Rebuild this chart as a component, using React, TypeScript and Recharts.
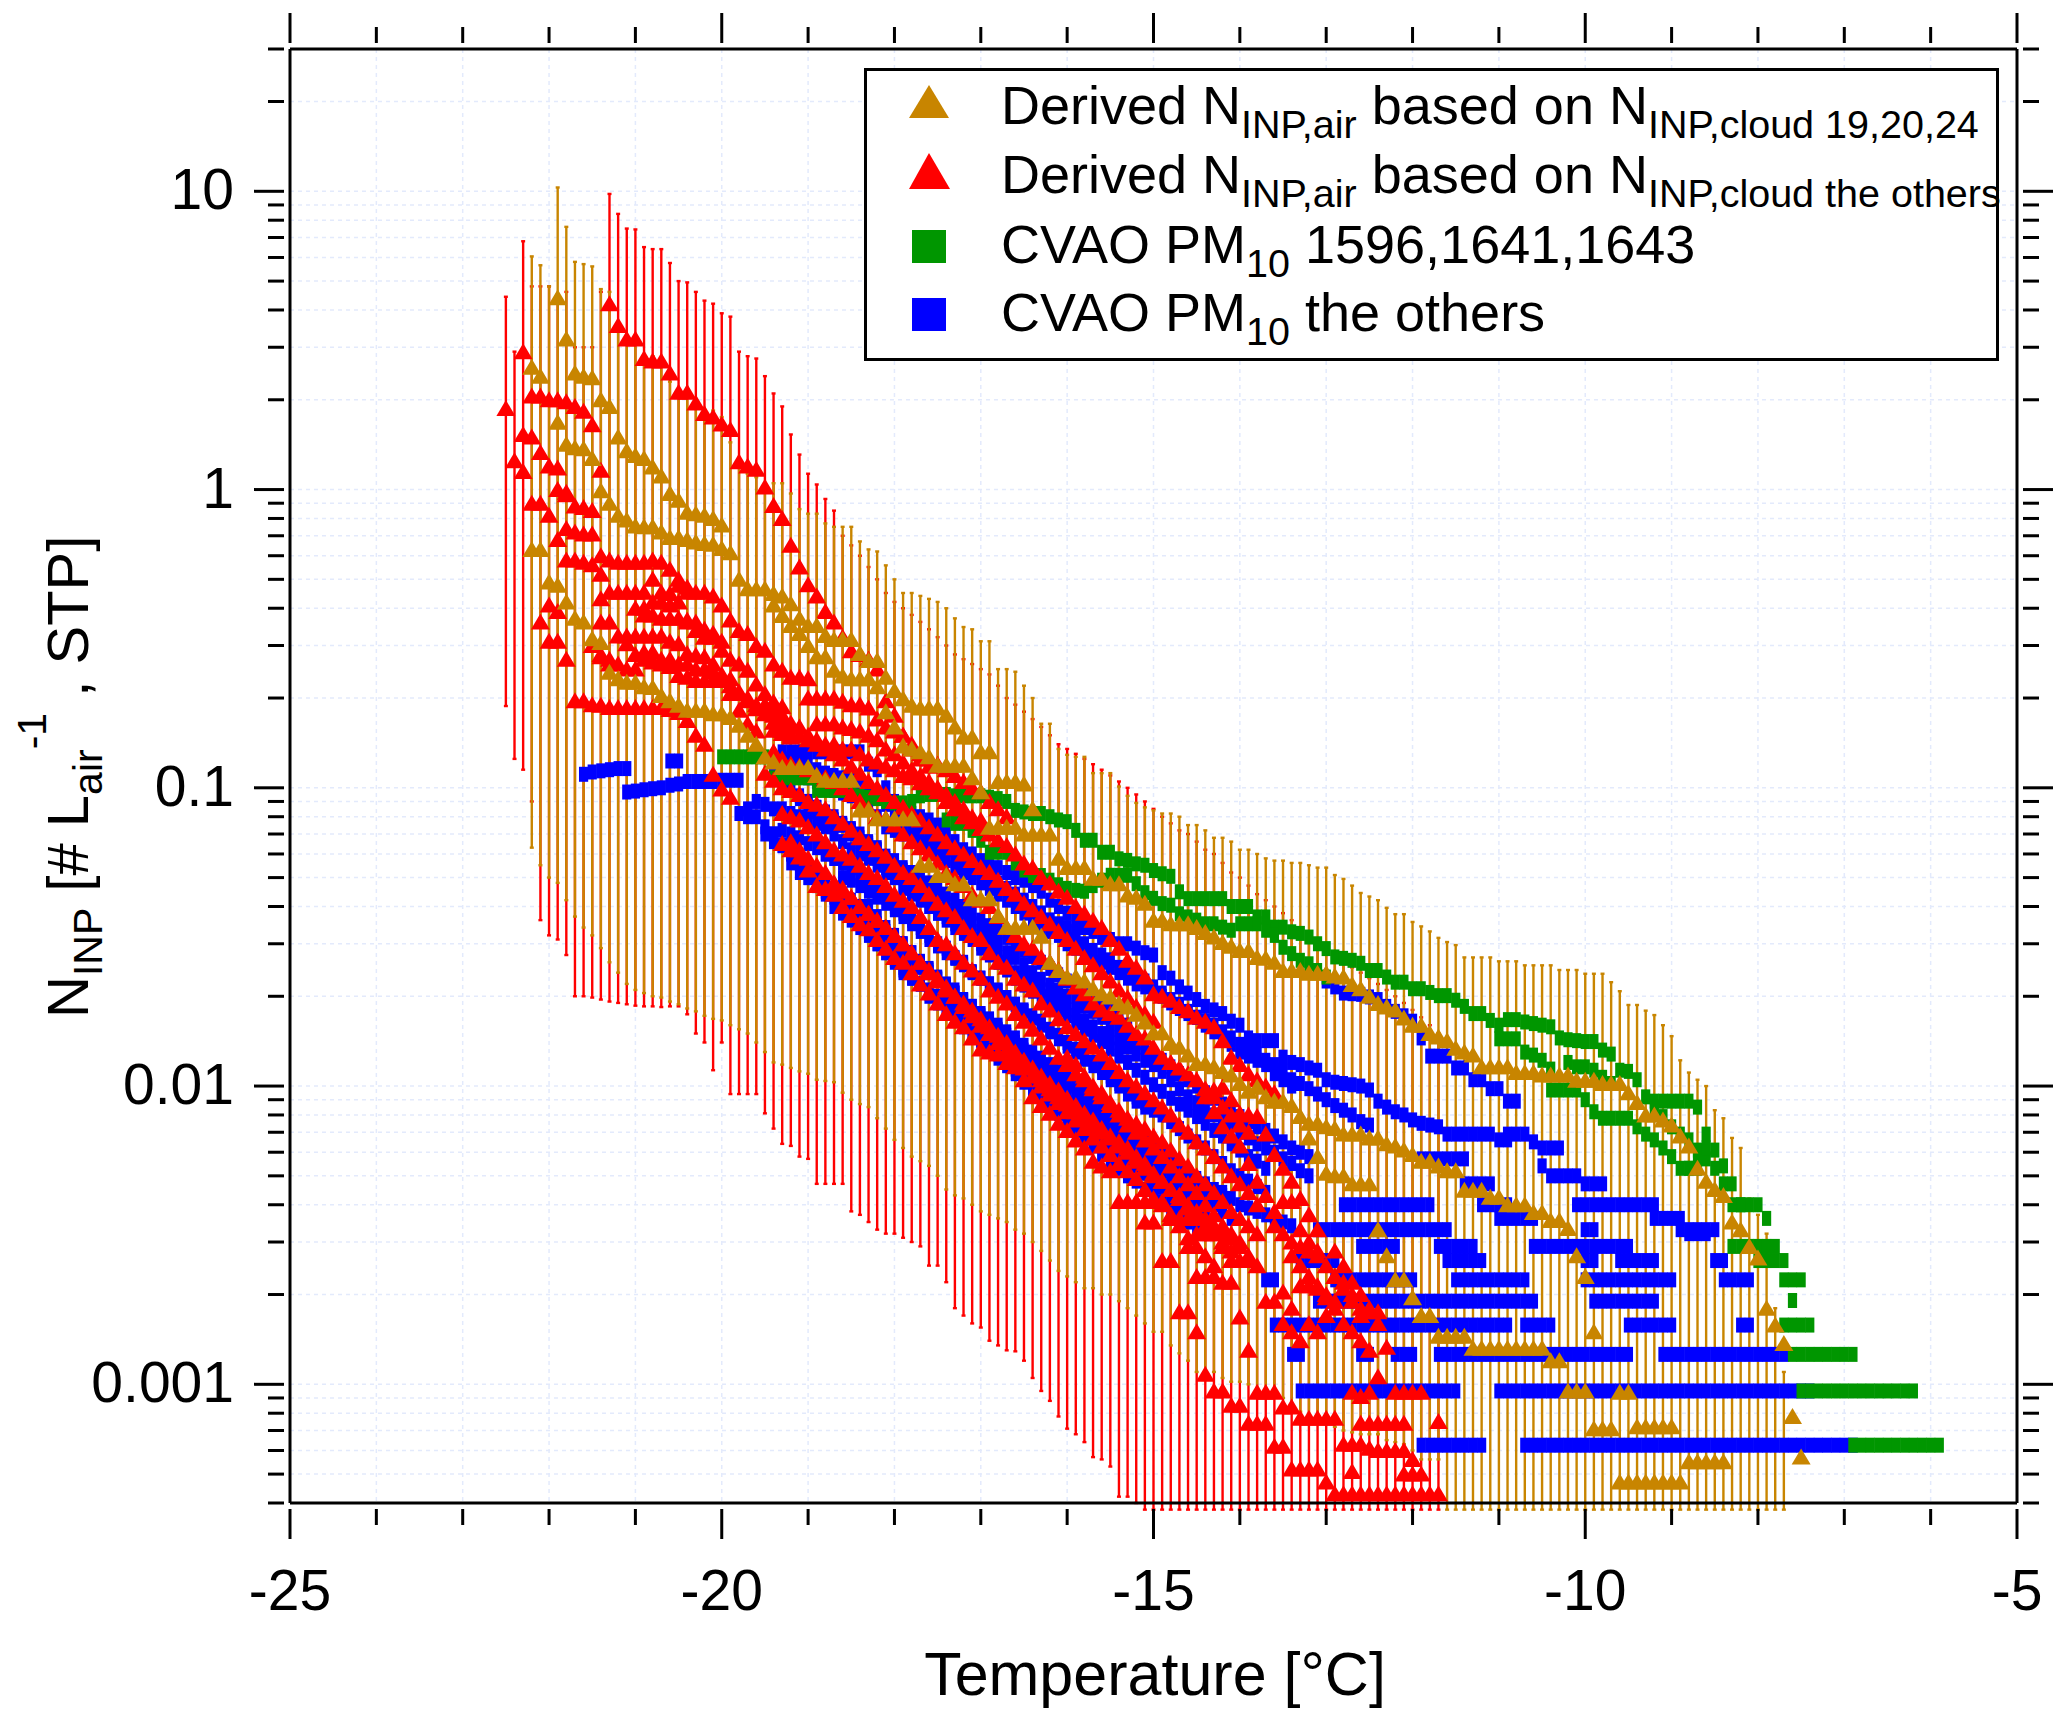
import {
  ScatterChart,
  Scatter,
  XAxis,
  YAxis,
  CartesianGrid,
  ErrorBar,
  Legend,
} from 'recharts'

type Curve = { from: number; values: number[] }
type Row = [value: number, from: number, to: number]

const BROWN = '#c88500'
const RED = '#ff0000'
const GREEN = '#009600'
const BLUE = '#0000ff'
const FONT = '"Liberation Sans", Arial, sans-serif'

const xTicks = [-25, -24, -23, -22, -21, -20, -19, -18, -17, -16, -15, -14, -13, -12, -11, -10, -9, -8, -7, -6, -5]
const xLabels = [-25, -20, -15, -10, -5]
const yTicks = [
  0.0004, 0.0005, 0.0006, 0.0007, 0.0008, 0.0009, 0.001, 0.002, 0.003, 0.004, 0.005, 0.006, 0.007, 0.008, 0.009, 0.01,
  0.02, 0.03, 0.04, 0.05, 0.06, 0.07, 0.08, 0.09, 0.1, 0.2, 0.3, 0.4, 0.5, 0.6, 0.7, 0.8, 0.9, 1, 2, 3, 4, 5, 6, 7, 8,
  9, 10, 20, 30,
]
const yLabels = [0.001, 0.01, 0.1, 1, 10]

// whisker envelope per 0.1 °C column, columns past the end of a bottom list run off the axis
const belowAxis = 0.00038
const redBarFrom = -22.5
const redBarTop = [
  4.43, 2.9, 6.8, 4.8, 4.8, 4.8, 4.5, 4.6, 3, 3, 3, 4.6, 9.8, 8.4, 7.5, 7.45, 6.5, 6.4, 6.4, 5.75, 5, 4.95, 4.6, 4.3, 4.2,
  3.9, 3.8, 2.9, 2.8, 2.75, 2.4, 2.1, 1.9, 1.53, 1.31, 1.13, 1.04, 0.93, 0.85, 0.7, 0.65, 0.6, 0.55, 0.5, 0.45, 0.42, 0.4,
  0.38, 0.36, 0.34, 0.32, 0.3, 0.28, 0.27, 0.26, 0.25, 0.24, 0.22, 0.2, 0.19, 0.18, 0.17, 0.16, 0.15, 0.14, 0.135, 0.13,
  0.125, 0.12, 0.115, 0.11, 0.105, 0.1, 0.095, 0.09, 0.085, 0.08, 0.076, 0.072, 0.07, 0.066, 0.062, 0.06, 0.056, 0.052,
  0.05, 0.047, 0.044, 0.042, 0.04, 0.038, 0.036, 0.034, 0.032, 0.03, 0.028, 0.027, 0.026, 0.025, 0.024, 0.023, 0.022,
  0.021, 0.02, 0.019, 0.018, 0.017, 0.016, 0.015,
]
const redBarBottom = [
  0.188, 0.125, 0.115, 0.09, 0.036, 0.032, 0.031, 0.0275, 0.02, 0.02, 0.0198, 0.0195, 0.0192, 0.019, 0.0188, 0.0186,
  0.0185, 0.0185, 0.0184, 0.0185, 0.0185, 0.0174, 0.015, 0.014, 0.0113, 0.014, 0.0094, 0.0094, 0.0094, 0.0094, 0.0081,
  0.0072, 0.0064, 0.0063, 0.0058, 0.0057, 0.0047, 0.0047, 0.0047, 0.0047, 0.0038, 0.0037, 0.0035, 0.0033, 0.0032, 0.0032,
  0.0031, 0.003, 0.0029, 0.0025, 0.0025, 0.0022, 0.0018, 0.0017, 0.0016, 0.00155, 0.0014, 0.00135, 0.0013, 0.00129,
  0.0012, 0.00105, 0.00095, 0.00088, 0.00078, 0.00071, 0.00068, 0.00064, 0.00057, 0.00056, 0.00053, 0.00042, 0.00042,
  0.0004,
]
const brownBarFrom = -22.2
const brownBarTop = [
  6.05, 5.65, 4.8, 10.3, 7.6, 5.8, 5.7, 5.6, 4.7, 4.6, 3.5, 3.2, 3.2, 2.8, 2.8, 2.65, 2.3, 2.15, 2.1, 1.94, 1.84, 1.84,
  1.75, 1.44, 1.19, 1.13, 1.1, 1.05, 1.05, 1.05, 0.97, 0.86, 0.83, 0.83, 0.77, 0.75, 0.75, 0.75, 0.67, 0.63, 0.62, 0.557,
  0.5, 0.45, 0.45, 0.44, 0.43, 0.42, 0.4, 0.37, 0.346, 0.34, 0.31, 0.31, 0.25, 0.25, 0.245, 0.22, 0.2, 0.164, 0.164, 0.135,
  0.129, 0.127, 0.127, 0.112, 0.112, 0.112, 0.101, 0.094, 0.089, 0.086, 0.084, 0.082, 0.082, 0.08, 0.075, 0.075, 0.072,
  0.068, 0.068, 0.066, 0.062, 0.062, 0.06, 0.058, 0.057, 0.057, 0.056, 0.056, 0.055, 0.054, 0.054, 0.051, 0.0495, 0.047,
  0.0444, 0.0432, 0.042, 0.0396, 0.0377, 0.0377, 0.0355, 0.0343, 0.033, 0.0314, 0.0304, 0.0297, 0.027, 0.027, 0.027, 0.027,
  0.0262, 0.0262, 0.0262, 0.0254, 0.0254, 0.0254, 0.0254, 0.0245, 0.0245, 0.0245, 0.0238, 0.0238, 0.0238, 0.0223, 0.0208,
  0.0187, 0.0187, 0.0179, 0.0173, 0.016, 0.0147, 0.0122, 0.0111, 0.0105, 0.01, 0.0083, 0.0078, 0.0067, 0.0062, 0.0042,
  0.0037, 0.0032, 0.0018, 0.0011,
]
const brownBarBottom = [
  0.063, 0.055, 0.05, 0.048, 0.042, 0.037, 0.034, 0.032, 0.029, 0.026, 0.024, 0.022, 0.021, 0.0205, 0.02, 0.0198, 0.0192,
  0.0188, 0.0182, 0.0178, 0.0172, 0.0168, 0.0166, 0.016, 0.0155, 0.015, 0.014, 0.013, 0.012, 0.0118, 0.0115, 0.0112, 0.011,
  0.0105, 0.0104, 0.0103, 0.0095, 0.009, 0.0087, 0.0085, 0.0078, 0.0072, 0.0066, 0.0062, 0.0058, 0.0056, 0.0054, 0.005,
  0.0045, 0.0043, 0.0042, 0.004, 0.0038, 0.0037, 0.0036, 0.0035, 0.0033, 0.0032, 0.003, 0.0028, 0.0026, 0.0024, 0.0023,
  0.0022, 0.0021, 0.0021, 0.002, 0.002, 0.0019, 0.0018, 0.0017, 0.0016, 0.0015, 0.0015, 0.00135, 0.00127, 0.0012, 0.0011,
  0.0011, 0.0011, 0.00105, 0.00102, 0.00102, 0.001, 0.00097, 0.00095, 0.00094, 0.0009, 0.00085, 0.00081, 0.00079, 0.00076,
  0.00074, 0.00072, 0.0007, 0.00069, 0.00068, 0.00068, 0.00068, 0.00065, 0.00064, 0.00063, 0.0006, 0.00056, 0.00056,
  0.00056,
]

const brownCurves: Curve[] = [
  { from: -22.2, values: [2.57, 2.4] },
  { from: -21.9, values: [4.4, 3.2, 2.46, 2.4, 2.37, 2, 1.9, 1.5, 1.35, 1.3, 1.27, 1.19, 1.11, 0.97, 0.92, 0.84, 0.83, 0.82, 0.8, 0.76] },
  {
    from: -21.9,
    values: [
      1.68, 1.42, 1.38, 1.37, 1.27, 0.99, 0.9, 0.82, 0.79, 0.755, 0.75, 0.75, 0.72, 0.69, 0.69, 0.68, 0.667, 0.66, 0.655,
      0.634, 0.614, 0.5, 0.465, 0.465, 0.465, 0.448, 0.44, 0.414, 0.37, 0.35, 0.35, 0.324, 0.314, 0.314, 0.314, 0.282, 0.267,
      0.267, 0.235, 0.212, 0.199, 0.189, 0.185, 0.185, 0.185, 0.175, 0.16, 0.148, 0.148, 0.132, 0.132, 0.105, 0.105, 0.105,
      0.103, 0.085,
    ],
  },
  {
    from: -22.2,
    values: [
      0.63, 0.63, 0.49, 0.478, 0.42, 0.37, 0.36, 0.316, 0.307, 0.244, 0.232, 0.226, 0.226, 0.218, 0.217, 0.204, 0.196, 0.189,
      0.182, 0.182, 0.182, 0.177, 0.177, 0.172, 0.162, 0.15, 0.14, 0.127, 0.122, 0.117, 0.117, 0.117, 0.117, 0.11, 0.106,
      0.106, 0.106, 0.106, 0.0843, 0.0843, 0.0787, 0.0787, 0.0787, 0.0787, 0.0787, 0.055, 0.055, 0.0508, 0.0508, 0.0477,
      0.0477, 0.0425, 0.0425, 0.0425, 0.0373, 0.0341, 0.0341, 0.0341, 0.0341, 0.0318, 0.026, 0.0244, 0.0232, 0.0232, 0.0225,
      0.0212, 0.0204, 0.0199, 0.0189, 0.0184, 0.0174, 0.0164, 0.0151, 0.0151, 0.0139, 0.0135, 0.0127, 0.0119, 0.0119, 0.0116,
      0.0112, 0.0109, 0.0102, 0.0096, 0.0099, 0.0092, 0.0089, 0.0089, 0.0086, 0.0079, 0.0075, 0.0075, 0.0073, 0.0072, 0.0069,
      0.0069, 0.0069, 0.0067, 0.0067, 0.0064, 0.0063, 0.0061, 0.0059, 0.0056, 0.0056, 0.0054, 0.0052, 0.0052, 0.00447, 0.00447,
      0.00447, 0.00424, 0.00424, 0.004, 0.004, 0.004, 0.00377, 0.00377, 0.00354, 0.00354, 0.00333, 0.0027, 0.0023, 0.0015,
    ],
  },
  {
    from: -19.4,
    values: [
      0.41, 0.378, 0.35, 0.329, 0.3, 0.275, 0.275, 0.248, 0.237, 0.232, 0.232, 0.232, 0.218, 0.18, 0.16, 0.138, 0.135, 0.132,
      0.127, 0.119, 0.119, 0.119, 0.119, 0.108, 0.097, 0.0738, 0.0738, 0.0738, 0.0738, 0.07, 0.07, 0.07, 0.07, 0.058, 0.054,
      0.054, 0.054, 0.0497, 0.0497, 0.0477, 0.0477, 0.0437, 0.043, 0.041, 0.036, 0.036, 0.035, 0.035, 0.035, 0.034, 0.0327,
      0.0316, 0.0303, 0.0294, 0.0285, 0.0285, 0.027, 0.0268, 0.026, 0.0244, 0.0244, 0.0244, 0.0239, 0.0239, 0.0239, 0.0234,
      0.0232, 0.0219, 0.0212, 0.02, 0.0189, 0.0184, 0.018, 0.0169, 0.016, 0.016, 0.015, 0.0146, 0.0142, 0.0134, 0.013, 0.0127,
      0.0116, 0.0116, 0.0116, 0.0116, 0.0111, 0.0111, 0.0111, 0.0109, 0.0109, 0.0109, 0.0109, 0.01045, 0.01045, 0.01045,
      0.0102, 0.0102, 0.0102, 0.0095, 0.0088, 0.008, 0.008, 0.0077, 0.0074, 0.0068, 0.0063, 0.0053, 0.0048, 0.0045, 0.0043,
      0.0035, 0.0033, 0.0029, 0.00265, 0.0018, 0.00158, 0.00137, 0.00078, 0.00057,
    ],
  },
  {
    from: -13.2,
    values: [
      0.0067, 0.0058, 0.0051, 0.005, 0.005, 0.0047, 0.0047, 0.0047, 0.0033, 0.0027, 0.00224, 0.00224, 0.00195, 0.0017, 0.0017,
      0.00145, 0.00145, 0.00145, 0.00145, 0.00132, 0.00132, 0.00132, 0.00132, 0.00132, 0.00132, 0.00132, 0.00132, 0.00132,
      0.0012, 0.0012, 0.00095, 0.00095, 0.00095, 0.00071, 0.00071, 0.00071, 0.00094, 0.00094, 0.00072, 0.00072, 0.00072, 0.00072,
      0.00072,
    ],
  },
  { from: -9.6, values: [0.00047, 0.00047, 0.00047, 0.00047, 0.00047, 0.00047, 0.00047, 0.00047, 0.00055, 0.00055, 0.00055, 0.00055, 0.00055] },
]

const redCurves: Curve[] = [
  { from: -22.5, values: [1.87] },
  { from: -22.4, values: [1.25, 1.15] },
  { from: -22.3, values: [2.9] },
  { from: -22.2, values: [2.06, 2.06, 2, 2, 1.97, 1.9, 1.83, 1.65, 1.16] },
  { from: -22.3, values: [1.53, 1.5, 1.33, 1.2, 1.18, 0.98] },
  { from: -22.2, values: [0.9, 0.9, 0.82, 1, 0.96, 0.88, 0.87, 0.85] },
  { from: -21.9, values: [0.68, 0.74, 0.72, 0.71, 0.71, 0.52] },
  { from: -22.1, values: [0.36, 0.31, 0.31, 0.27] },
  { from: -22, values: [0.41, 0.39] },
  { from: -21.5, values: [0.3, 0.28, 0.27, 0.26, 0.25, 0.25, 0.38, 0.38, 0.37, 0.37, 0.37, 0.36, 0.36, 0.34, 0.33, 0.31] },
  { from: -20.9, values: [0.285, 0.285, 0.27, 0.27, 0.26, 0.26, 0.25, 0.25, 0.245, 0.24, 0.22, 0.21, 0.2, 0.19, 0.185, 0.175, 0.165] },
  { from: -21.8, values: [0.58, 0.58, 0.57, 0.56, 0.6, 0.58, 0.57, 0.57, 0.57, 0.57, 0.58, 0.57, 0.54, 0.5, 0.47] },
  {
    from: -21.4,
    values: [
      0.43, 0.453, 0.453, 0.453, 0.453, 0.453, 0.5, 0.453, 0.448, 0.478, 0.453, 0.453, 0.453, 0.44, 0.41, 0.365, 0.337, 0.329,
      0.3, 0.289, 0.26, 0.248, 0.235, 0.235, 0.232,
    ],
  },
  {
    from: -21,
    values: [0.4, 0.4, 0.42, 0.42, 0.41, 0.42, 0.365, 0.337, 0.32, 0.32, 0.289, 0.27, 0.26, 0.248, 0.223, 0.207, 0.194, 0.187, 0.162],
  },
  {
    from: -21.4,
    values: [
      0.36, 0.36, 0.323, 0.323, 0.323, 0.323, 0.323, 0.323, 0.31, 0.304, 0.282, 0.278, 0.275, 0.26, 0.235, 0.232, 0.207, 0.196,
      0.184, 0.177, 0.166, 0.152, 0.148,
    ],
  },
  { from: -21.4, values: [0.275, 0.26] },
  {
    from: -21.1,
    values: [0.304, 0.28, 0.27, 0.264, 0.26, 0.255, 0.238, 0.235, 0.229, 0.229, 0.229, 0.229, 0.207, 0.182, 0.164, 0.155],
  },
  {
    from: -21.7,
    values: [
      0.196, 0.196, 0.19, 0.189, 0.186, 0.186, 0.186, 0.186, 0.186, 0.186, 0.186, 0.183, 0.179, 0.168, 0.15, 0.14, 0.111, 0.099,
      0.093,
    ],
  },
  {
    from: -21.3,
    values: [
      4.2, 3.55, 3.2, 3.2, 2.75, 2.7, 2.7, 2.46, 2.12, 2.12, 1.95, 1.8, 1.75, 1.66, 1.59, 1.24, 1.2, 1.17, 1.02, 0.885, 0.8, 0.65,
      0.55, 0.48, 0.44, 0.39, 0.36, 0.32, 0.288, 0.28, 0.27, 0.25, 0.196, 0.175, 0.15, 0.135, 0.125, 0.118,
    ],
  },
  {
    from: -19,
    values: [0.2, 0.2, 0.2, 0.2, 0.195, 0.19, 0.19, 0.185, 0.17, 0.16, 0.155, 0.15, 0.14, 0.13, 0.125, 0.12, 0.115, 0.11, 0.105, 0.1, 0.097, 0.09, 0.085, 0.08],
  },
  {
    from: -18.9,
    values: [0.164, 0.164, 0.164, 0.16, 0.158, 0.155, 0.15, 0.145, 0.135, 0.13, 0.122, 0.115, 0.11, 0.105, 0.1, 0.095, 0.09, 0.085, 0.08, 0.078],
  },
  {
    from: -19.4,
    values: [
      0.156, 0.156, 0.15, 0.15, 0.145, 0.14, 0.14, 0.14, 0.135, 0.135, 0.13, 0.125, 0.122, 0.118, 0.115, 0.11, 0.108, 0.104, 0.1,
      0.097, 0.09, 0.085, 0.08, 0.077, 0.073, 0.07, 0.067, 0.064, 0.06, 0.056, 0.054, 0.05, 0.048, 0.045, 0.043, 0.04, 0.038,
      0.036, 0.034, 0.031, 0.029, 0.0264, 0.025, 0.0232, 0.0204, 0.02, 0.0194, 0.0185, 0.0179, 0.017, 0.0165, 0.0158, 0.0142,
      0.0125, 0.0118, 0.011, 0.0105, 0.01, 0.0095,
    ],
  },
  {
    from: -19.4,
    values: [
      0.132, 0.125, 0.12, 0.118, 0.115, 0.11, 0.108, 0.105, 0.1, 0.095, 0.09, 0.085, 0.08, 0.079, 0.075, 0.07, 0.066, 0.063, 0.06,
      0.056, 0.052, 0.05, 0.047, 0.044, 0.042, 0.04, 0.037, 0.034, 0.032, 0.03, 0.029, 0.027, 0.026, 0.0245, 0.023, 0.0215, 0.0204,
      0.019, 0.018, 0.0175, 0.017, 0.016, 0.015, 0.0145, 0.0135, 0.0125, 0.012, 0.0115, 0.011, 0.0105, 0.0098, 0.0092, 0.0085,
      0.008, 0.0074, 0.007,
    ],
  },
  {
    from: -19.5,
    values: [
      0.112, 0.106, 0.1, 0.098, 0.095, 0.09, 0.088, 0.085, 0.08, 0.076, 0.072, 0.068, 0.065, 0.062, 0.059, 0.055, 0.052, 0.05,
      0.047, 0.044, 0.041, 0.039, 0.037, 0.034, 0.032, 0.031, 0.028, 0.026, 0.025, 0.023, 0.022, 0.021, 0.019, 0.018, 0.0168,
      0.0158, 0.015, 0.0142, 0.0135, 0.0128, 0.012, 0.0112, 0.0105, 0.01, 0.0095, 0.009, 0.0085, 0.008, 0.0074, 0.007, 0.0065,
      0.0062, 0.0058, 0.0054, 0.005, 0.0047, 0.0044, 0.004,
    ],
  },
  {
    from: -19.3,
    values: [
      0.082, 0.08, 0.078, 0.074, 0.07, 0.066, 0.062, 0.06, 0.058, 0.055, 0.052, 0.05, 0.047, 0.044, 0.042, 0.04, 0.037, 0.034,
      0.031, 0.03, 0.028, 0.026, 0.0245, 0.023, 0.021, 0.02, 0.019, 0.0175, 0.0165, 0.0155, 0.0145, 0.0135, 0.0125, 0.0118, 0.011,
      0.0105, 0.0098, 0.0092, 0.0086, 0.008, 0.0074, 0.007, 0.0066, 0.0062, 0.0058, 0.0054, 0.005, 0.0047, 0.0044, 0.004, 0.0037,
      0.0034, 0.0032, 0.003,
    ],
  },
  {
    from: -19.2,
    values: [
      0.066, 0.062, 0.058, 0.055, 0.052, 0.048, 0.046, 0.043, 0.04, 0.038, 0.036, 0.034, 0.032, 0.03, 0.028, 0.026, 0.024, 0.0225,
      0.021, 0.02, 0.0185, 0.0172, 0.016, 0.015, 0.014, 0.0132, 0.0125, 0.0115, 0.0108, 0.01, 0.0094, 0.0088, 0.0082, 0.0077,
      0.0072, 0.0067, 0.0063, 0.0059, 0.0055, 0.0052, 0.0049, 0.0045, 0.0042, 0.004, 0.0037, 0.0034, 0.0031, 0.0029, 0.0027,
      0.0025,
    ],
  },
  {
    from: -19.3,
    values: [
      0.065, 0.062, 0.0586, 0.053, 0.047, 0.046, 0.044, 0.04, 0.0373, 0.035, 0.0337, 0.031, 0.029, 0.027, 0.026, 0.024, 0.022,
      0.0205, 0.019, 0.0175, 0.0165, 0.0158, 0.0145, 0.0133, 0.013, 0.0128, 0.012, 0.0116, 0.0105, 0.0092, 0.0086, 0.0081, 0.0075,
      0.0071, 0.0066, 0.0062, 0.0056, 0.0054, 0.0052,
    ],
  },
  {
    from: -19.5,
    values: [
      0.19, 0.185, 0.175, 0.165, 0.16, 0.15, 0.145, 0.135, 0.13, 0.125, 0.118, 0.112, 0.105, 0.1, 0.095, 0.09, 0.086, 0.082, 0.078,
      0.074, 0.07, 0.066, 0.063, 0.06, 0.057, 0.054, 0.052, 0.049, 0.046, 0.044, 0.041, 0.039, 0.037, 0.035, 0.033, 0.031, 0.029,
      0.027, 0.0255, 0.024, 0.0225, 0.021, 0.0198, 0.0185, 0.0175, 0.0165,
    ],
  },
  {
    from: -18.7,
    values: [
      0.048, 0.045, 0.043, 0.04, 0.038, 0.036, 0.034, 0.032, 0.03, 0.028, 0.026, 0.0245, 0.023, 0.0215, 0.02, 0.019, 0.018, 0.0168,
      0.0158, 0.0148, 0.014, 0.013, 0.0122, 0.0115, 0.0108, 0.0102, 0.0097, 0.0091, 0.0086, 0.0081, 0.0077, 0.0072, 0.0068, 0.0065,
      0.0062, 0.0058, 0.0055, 0.0051, 0.0048, 0.0045, 0.0042, 0.0039, 0.0036, 0.0034, 0.0032, 0.003, 0.0028,
    ],
  },
  {
    from: -16.3,
    values: [
      0.0105, 0.0098, 0.0092, 0.0087, 0.0082, 0.0078, 0.0074, 0.007, 0.0067, 0.0063, 0.006, 0.0056, 0.0053, 0.005, 0.0048, 0.0045,
      0.0043, 0.004, 0.0038, 0.0036, 0.0034, 0.0033, 0.0031, 0.0029, 0.0027, 0.0025,
    ],
  },
  {
    from: -16,
    values: [
      0.0125, 0.0118, 0.0108, 0.01, 0.0095, 0.0088, 0.0083, 0.0078, 0.0075, 0.0072, 0.0068, 0.0065, 0.0061, 0.0057, 0.0054, 0.005,
      0.0047, 0.0044, 0.0041, 0.0038, 0.0036, 0.0034, 0.0032,
    ],
  },
  { from: -13.6, values: [0.0034, 0.0032, 0.003, 0.0029, 0.0028, 0.0027, 0.0025, 0.0023, 0.0022, 0.002, 0.0018] },
  { from: -13.4, values: [0.0027, 0.0025, 0.0023, 0.0021, 0.002, 0.0018, 0.0016, 0.0015, 0.0014, 0.0013] },
  { from: -12.9, values: [0.0028, 0.0025, 0.0022, 0.002, 0.0018, 0.0016] },
  { from: -14.3, values: [0.0097, 0.0099, 0.009, 0.0081, 0.008, 0.0079, 0.0069, 0.0059, 0.0053, 0.0048, 0.0042, 0.0037, 0.0033] },
  { from: -14.4, values: [0.0092, 0.0082, 0.0073, 0.0068, 0.0063, 0.0055, 0.0048, 0.0043, 0.0038, 0.0041, 0.0041, 0.0033, 0.003, 0.0028] },
  { from: -15.4, values: [0.0041, 0.0041, 0.0041, 0.0041, 0.0041, 0.0041] },
  { from: -15.1, values: [0.0035, 0.0035] },
  { from: -14.8, values: [0.0036, 0.0036, 0.0036] },
  { from: -14.7, values: [0.0043] },
  { from: -14.6, values: [0.0029, 0.0032, 0.0032, 0.0032, 0.0029, 0.0026, 0.0026, 0.0026] },
  { from: -14.9, values: [0.0026, 0.0026] },
  { from: -14.5, values: [0.0023, 0.0023, 0.0023, 0.0022, 0.0022] },
  { from: -14.7, values: [0.00175, 0.00175, 0.0015, 0.00108, 0.00095, 0.00095, 0.00085, 0.00085, 0.00074, 0.00074, 0.00074, 0.00062, 0.00062, 0.00052, 0.00052, 0.00052, 0.00052, 0.00047] },
  { from: -14, values: [0.00168, 0.0013, 0.00094, 0.00094, 0.00094, 0.00084, 0.00084, 0.00077, 0.00077, 0.00077, 0.00077, 0.00077, 0.00063, 0.00051] },
  { from: -12.9, values: [0.00043, 0.00043, 0.00043, 0.00043, 0.00043, 0.00043, 0.00043, 0.00043, 0.00043, 0.00043, 0.00043, 0.00043, 0.00043] },
  { from: -12.6, values: [0.00074, 0.00074, 0.00074, 0.00074, 0.00074, 0.00074] },
  { from: -11.7, values: [0.00075] },
  { from: -12.7, values: [0.00063, 0.00063, 0.00061, 0.0006, 0.0006, 0.0006, 0.0006, 0.00056] },
  { from: -12.1, values: [0.0005, 0.0005, 0.0005] },
  { from: -12.2, values: [0.00094, 0.00094, 0.00094, 0.00094] },
  { from: -12.7, values: [0.00094, 0.00091, 0.00094, 0.00106, 0.00133] },
  { from: -12.7, values: [0.0019, 0.0017, 0.00175, 0.00175] },
  { from: -13.7, values: [0.0019, 0.0019, 0.00204, 0.0018, 0.00214, 0.00214, 0.00214, 0.00195, 0.0023, 0.0021] },
  { from: -13.5, values: [0.0016, 0.0015, 0.0014, 0.0016, 0.0015, 0.0017, 0.0019] },
]

const blueCurves: Curve[] = [
  { from: -21.6, values: [0.111, 0.113, 0.114, 0.115, 0.116, 0.116] },
  { from: -20.6, values: [0.123, 0.123] },
  { from: -21.1, values: [0.0968, 0.0975, 0.0985, 0.0993, 0.1, 0.102, 0.103, 0.105, 0.105, 0.105, 0.105, 0.106, 0.106, 0.106] },
  {
    from: -19.3,
    values: [
      0.132, 0.132, 0.132, 0.132, 0.132, 0.132, 0.132, 0.132, 0.132, 0.132, 0.12, 0.115, 0.1, 0.09, 0.085, 0.082, 0.08, 0.078,
      0.075, 0.07, 0.066, 0.062, 0.06, 0.057, 0.056, 0.054, 0.052, 0.05, 0.049, 0.047, 0.045, 0.042, 0.04, 0.038, 0.036, 0.034,
      0.033, 0.0315, 0.031, 0.03, 0.03, 0.029, 0.028, 0.0275, 0.024, 0.023, 0.0215, 0.0205, 0.0195, 0.0185, 0.018, 0.0175, 0.0165,
      0.016, 0.0145, 0.0142, 0.0142, 0.0142, 0.0125, 0.012, 0.0118, 0.0115, 0.0113, 0.0105, 0.0103, 0.0102, 0.0101, 0.01, 0.0097,
      0.0089, 0.0085, 0.0082, 0.008, 0.0077, 0.0075, 0.0074, 0.0073, 0.0069, 0.0069, 0.0069, 0.0069, 0.0069, 0.0069, 0.0066, 0.0066,
    ],
  },
  {
    from: -13,
    values: [
      0.0225, 0.0215, 0.0205, 0.0204, 0.0203, 0.0199, 0.0195, 0.0185, 0.0178, 0.0172, 0.0165, 0.0145, 0.0126, 0.0126, 0.0126, 0.0115,
      0.0115, 0.0105, 0.0105, 0.0098, 0.0098, 0.0089, 0.0089,
    ],
  },
  {
    from: -19.4,
    values: [
      0.118, 0.115, 0.11, 0.11, 0.108, 0.105, 0.1, 0.098, 0.096, 0.094, 0.092, 0.088, 0.08, 0.074, 0.072, 0.07, 0.068, 0.065, 0.063,
      0.06, 0.057, 0.054, 0.052, 0.05, 0.048, 0.046, 0.044, 0.042, 0.04, 0.038, 0.036, 0.034, 0.033, 0.032, 0.03, 0.029, 0.028, 0.027,
      0.026, 0.025, 0.024, 0.023, 0.022, 0.0215, 0.021, 0.02, 0.019, 0.0182, 0.0175, 0.017, 0.0165, 0.016, 0.0152, 0.0145, 0.0138,
      0.0132, 0.0128, 0.0122, 0.0118, 0.0112, 0.0105, 0.0102, 0.0098, 0.0094, 0.009, 0.0086, 0.0083, 0.008, 0.0076, 0.0074,
    ],
  },
  {
    from: -19.8,
    values: [
      0.082, 0.08, 0.09, 0.088, 0.085, 0.085, 0.082, 0.08, 0.078, 0.076, 0.074, 0.07, 0.066, 0.062, 0.06, 0.058, 0.055, 0.052, 0.05,
      0.047, 0.045, 0.043, 0.04, 0.038, 0.037, 0.035, 0.033, 0.032, 0.03, 0.028, 0.027, 0.026, 0.024, 0.023, 0.022, 0.021, 0.02, 0.019,
      0.018, 0.0172, 0.0165, 0.0158, 0.015, 0.0145, 0.014, 0.0135, 0.0128, 0.0122, 0.0118, 0.0112, 0.0105, 0.0098, 0.0092, 0.0088,
      0.0084, 0.008, 0.0077, 0.0074, 0.007, 0.0067, 0.0064, 0.0062, 0.006, 0.0057, 0.0055, 0.0052, 0.005,
    ],
  },
  {
    from: -19.5,
    values: [
      0.07, 0.066, 0.072, 0.07, 0.068, 0.065, 0.063, 0.06, 0.058, 0.056, 0.054, 0.05, 0.047, 0.045, 0.043, 0.04, 0.038, 0.036, 0.034,
      0.032, 0.03, 0.029, 0.027, 0.026, 0.024, 0.023, 0.022, 0.021, 0.0198, 0.0188, 0.018, 0.0172, 0.0165, 0.0155, 0.0148, 0.014, 0.0133,
      0.0128, 0.012, 0.0115, 0.0108, 0.0102, 0.0098, 0.0092, 0.0088, 0.0083, 0.008, 0.0076, 0.0072, 0.0068, 0.0065, 0.0062, 0.0058,
      0.0055, 0.0052, 0.005, 0.0048, 0.0046, 0.0044,
    ],
  },
  {
    from: -19.4,
    values: [
      0.07, 0.064, 0.06, 0.056, 0.054, 0.05, 0.048, 0.046, 0.044, 0.042, 0.04, 0.037, 0.035, 0.033, 0.031, 0.03, 0.028, 0.026, 0.0245,
      0.023, 0.022, 0.021, 0.0195, 0.0185, 0.0175, 0.0165, 0.0155, 0.0148, 0.014, 0.0132, 0.0125, 0.012, 0.0112, 0.0106, 0.01, 0.0096,
      0.009, 0.0085, 0.008, 0.0076, 0.0072, 0.0068, 0.0064, 0.0061, 0.0058, 0.0055, 0.0052, 0.0049, 0.0047, 0.0044, 0.0042, 0.004,
      0.0038, 0.0036,
    ],
  },
  {
    from: -19.2,
    values: [
      0.056, 0.052, 0.05, 0.047, 0.044, 0.04, 0.038, 0.036, 0.034, 0.032, 0.03, 0.028, 0.026, 0.024, 0.023, 0.022, 0.02, 0.019, 0.018,
      0.017, 0.0158, 0.015, 0.0142, 0.0135, 0.0128, 0.012, 0.0114, 0.0108, 0.0102, 0.0096, 0.009, 0.0085, 0.008, 0.0076, 0.0072, 0.0069,
      0.0065, 0.0062, 0.0059, 0.0056, 0.0054, 0.0051, 0.0048, 0.0046, 0.0043, 0.0041, 0.0039, 0.0037,
    ],
  },
  {
    from: -19.7,
    values: [
      0.085, 0.08, 0.074, 0.07, 0.064, 0.06, 0.056, 0.052, 0.05, 0.047, 0.044, 0.041, 0.039, 0.036, 0.033, 0.031, 0.029, 0.027, 0.025,
      0.0235, 0.022, 0.021, 0.02, 0.019, 0.018, 0.017, 0.016, 0.015, 0.0142, 0.0135, 0.0129, 0.0123, 0.0117, 0.0112, 0.0106, 0.0098,
      0.0092, 0.0087, 0.0083, 0.008, 0.0076, 0.0073, 0.007, 0.0067, 0.0064, 0.0062, 0.006, 0.0058, 0.0055, 0.0053, 0.0052, 0.005, 0.0048,
      0.0046, 0.0045, 0.0044, 0.0042, 0.004, 0.0039, 0.0038, 0.0037, 0.0036, 0.0035, 0.0034,
    ],
  },
  {
    from: -19.3,
    values: [
      0.105, 0.1, 0.094, 0.09, 0.086, 0.083, 0.08, 0.076, 0.073, 0.07, 0.066, 0.063, 0.058, 0.055, 0.053, 0.05, 0.048, 0.046, 0.044, 0.041,
      0.039, 0.037, 0.035, 0.033, 0.031, 0.03, 0.028, 0.027, 0.0255, 0.024, 0.0228, 0.0218, 0.021, 0.02, 0.0192, 0.0185, 0.0178, 0.017,
      0.0162, 0.0155, 0.0148, 0.014, 0.0135, 0.0128, 0.0122, 0.0116, 0.011, 0.0105, 0.01, 0.0095, 0.0091, 0.0087, 0.0083, 0.0079, 0.0076,
      0.0073, 0.0071, 0.0068, 0.0065, 0.0062, 0.006, 0.0058,
    ],
  },
  {
    from: -19.1,
    values: [
      0.092, 0.09, 0.086, 0.082, 0.078, 0.075, 0.072, 0.068, 0.064, 0.058, 0.054, 0.05, 0.046, 0.044, 0.042, 0.04, 0.038, 0.036, 0.034,
      0.0325, 0.031, 0.029, 0.0275, 0.026, 0.0245, 0.023, 0.0218, 0.0208, 0.0198, 0.019, 0.018, 0.0172, 0.0163, 0.0155, 0.0148, 0.0141,
      0.0133, 0.0126, 0.012, 0.0113, 0.0107, 0.0101, 0.0096, 0.0091, 0.0087, 0.0083, 0.0079, 0.0075, 0.0071, 0.0068, 0.0064, 0.0061, 0.0058,
      0.0056, 0.0053,
    ],
  },
  {
    from: -19,
    values: [
      0.05, 0.048, 0.045, 0.043, 0.041, 0.039, 0.037, 0.035, 0.033, 0.0315, 0.03, 0.028, 0.0265, 0.025, 0.024, 0.0228, 0.0215, 0.0205, 0.0195,
      0.0185, 0.0175, 0.0168, 0.016, 0.0152, 0.0145, 0.0137, 0.013, 0.0124, 0.0118, 0.0112, 0.0106, 0.0101, 0.0095, 0.009, 0.0086, 0.0082,
      0.0078, 0.0074, 0.007, 0.0066, 0.0063, 0.006, 0.0057, 0.0054, 0.0051, 0.0049, 0.0047, 0.0045, 0.0043,
    ],
  },
  {
    from: -18.4,
    values: [
      0.036, 0.033, 0.03, 0.028, 0.0265, 0.0245, 0.023, 0.022, 0.0205, 0.0195, 0.0185, 0.0172, 0.0162, 0.0152, 0.0143, 0.0133, 0.0124, 0.0117,
      0.011, 0.0103, 0.0097, 0.0091, 0.0086, 0.0081, 0.0075, 0.0071, 0.0067, 0.0063, 0.0059, 0.0056, 0.0053, 0.005, 0.0048, 0.0045, 0.0043,
      0.0041, 0.0039, 0.0037, 0.0035, 0.0034,
    ],
  },
  {
    from: -16.6,
    values: [
      0.0435, 0.0415, 0.04, 0.038, 0.036, 0.0345, 0.0325, 0.031, 0.03, 0.0285, 0.0275, 0.0265, 0.025, 0.024, 0.0235, 0.0225, 0.0215, 0.0205,
      0.0195, 0.0188, 0.0178, 0.017, 0.016, 0.0152, 0.0145, 0.0138, 0.013, 0.0126, 0.0122, 0.0118, 0.011, 0.0105, 0.01,
    ],
  },
  {
    from: -19.3,
    values: [
      0.125, 0.122, 0.12, 0.118, 0.115, 0.112, 0.11, 0.108, 0.106, 0.104, 0.1, 0.095, 0.088, 0.08, 0.076, 0.072, 0.07, 0.068, 0.065, 0.062,
      0.058, 0.056, 0.054, 0.052, 0.05, 0.048, 0.046, 0.044, 0.042, 0.04, 0.038, 0.036, 0.035, 0.034, 0.033,
    ],
  },
  {
    from: -19,
    values: [
      0.085, 0.083, 0.08, 0.078, 0.075, 0.07, 0.066, 0.065, 0.062, 0.059, 0.057, 0.054, 0.052, 0.05, 0.048, 0.046, 0.044, 0.042, 0.04, 0.038,
      0.036, 0.0345, 0.033, 0.0315, 0.03, 0.0285, 0.0272, 0.026, 0.0248, 0.0236, 0.0225, 0.0215, 0.0205, 0.0195, 0.0186, 0.0178, 0.017, 0.016,
    ],
  },
  {
    from: -18.8,
    values: [
      0.06, 0.058, 0.05, 0.049, 0.047, 0.045, 0.043, 0.041, 0.039, 0.037, 0.035, 0.033, 0.031, 0.0295, 0.028, 0.0268, 0.0255, 0.0242, 0.023,
      0.022, 0.0208, 0.0198, 0.0188, 0.0178, 0.0169, 0.016, 0.0152, 0.0144, 0.0136, 0.013, 0.0123, 0.0117, 0.0111, 0.0105, 0.01, 0.0094, 0.0089,
      0.0085,
    ],
  },
  {
    from: -18.3,
    values: [
      0.04, 0.037, 0.034, 0.032, 0.03, 0.028, 0.0262, 0.0248, 0.0232, 0.0218, 0.0205, 0.0193, 0.0182, 0.0172, 0.0162, 0.0153, 0.0144, 0.0136,
      0.0128, 0.012, 0.0113, 0.0106, 0.01, 0.0094, 0.0088, 0.0083, 0.0078, 0.0074, 0.007, 0.0066, 0.0062, 0.0059, 0.0056, 0.0053, 0.005, 0.0047,
      0.0044, 0.0042, 0.004, 0.0038,
    ],
  },
  { from: -10.9, values: [0.0069, 0.0069, 0.0069, 0.0065, 0.0062, 0.0062, 0.0062] },
  { from: -10.5, values: [0.0054, 0.005, 0.005, 0.005, 0.005] },
  { from: -9.2, values: [0.0036, 0.0036, 0.0036, 0.0036, 0.0032, 0.0032, 0.0032] },
]

const blueRows: Row[] = [
  [0.000625, -11.9, -11.2],
  [0.000625, -10.7, -6.9],
  [0.00095, -13.3, -11.5],
  [0.00095, -11, -9],
  [0.00095, -8.9, -7.4],
  [0.00126, -13.4, -13.3],
  [0.00126, -12.6, -12.5],
  [0.00126, -12.2, -12],
  [0.00126, -11.7, -9.5],
  [0.00126, -9.1, -7.7],
  [0.00158, -13.6, -10.9],
  [0.00158, -10.7, -10.4],
  [0.00158, -9.5, -9],
  [0.00158, -8.2, -8.1],
  [0.0019, -13.1, -10.6],
  [0.0019, -9.9, -9.2],
  [0.00224, -13.7, -13.6],
  [0.00224, -12.9, -12],
  [0.00224, -11.5, -10.7],
  [0.00224, -10, -9.4],
  [0.00224, -9.3, -9],
  [0.00224, -8.4, -8.1],
  [0.0026, -13.3, -12.9],
  [0.0026, -11.6, -11.2],
  [0.0026, -10, -9.9],
  [0.0026, -9.6, -9.2],
  [0.0026, -8.5, -8.4],
  [0.0029, -12.6, -12.2],
  [0.0029, -11.7, -11.3],
  [0.0029, -10.6, -9.5],
  [0.0033, -13.1, -11.6],
  [0.0033, -10, -9.9],
  [0.0033, -8.9, -8.5],
  [0.0036, -11, -10.6],
  [0.004, -12.8, -11.8],
  [0.004, -11.2, -10.9],
  [0.004, -10.1, -9.2],
  [0.0047, -11.4, -11.1],
  [0.0047, -10, -9.8],
  [0.0057, -11.9, -11.4],
]

const greenCurves: Curve[] = [
  {
    from: -20,
    values: [
      0.127, 0.127, 0.127, 0.127, 0.127, 0.127, 0.108, 0.108, 0.108, 0.108, 0.108, 0.098, 0.098, 0.098, 0.098, 0.098, 0.094, 0.093, 0.092,
      0.09, 0.089, 0.089, 0.09, 0.094, 0.095, 0.095, 0.095, 0.094, 0.094, 0.094, 0.094, 0.093, 0.092, 0.09, 0.084, 0.083, 0.082, 0.082,
      0.08, 0.078, 0.077, 0.072, 0.0667, 0.0667, 0.0608, 0.0608, 0.0578, 0.0571, 0.0556, 0.055, 0.0528, 0.0515, 0.0505, 0.0448, 0.0425,
      0.0425, 0.0425, 0.0425, 0.0425, 0.04, 0.04, 0.04, 0.0369, 0.0369, 0.0341, 0.0341, 0.0329, 0.0325, 0.0316, 0.03, 0.0289, 0.0271,
      0.0268, 0.0264, 0.0258, 0.0244, 0.0244, 0.0232, 0.0223, 0.0223, 0.0212, 0.0212, 0.0206, 0.0201, 0.0201, 0.0194, 0.0185, 0.0175,
      0.0175, 0.0166, 0.016, 0.0167, 0.0167, 0.0164, 0.0162, 0.016, 0.0158, 0.0145, 0.0143, 0.0142, 0.0141, 0.0141, 0.0132, 0.0128, 0.0113,
      0.0112, 0.0105, 0.0092, 0.0089, 0.0089, 0.0089, 0.0089, 0.0089, 0.0085, 0.0069, 0.0061, 0.0054, 0.004, 0.004, 0.004, 0.004, 0.0036,
    ],
  },
  {
    from: -17.4,
    values: [
      0.078, 0.076, 0.076, 0.072, 0.0667, 0.0608, 0.0608, 0.0608, 0.056, 0.053, 0.0508, 0.0508, 0.049, 0.0473, 0.046, 0.0453, 0.045, 0.047,
      0.049, 0.0509, 0.0509, 0.0509, 0.0477, 0.0445, 0.0426, 0.0409, 0.0404, 0.0378, 0.0369, 0.036, 0.035, 0.035, 0.0341, 0.0333, 0.035,
      0.035, 0.035, 0.0333, 0.032, 0.0292, 0.0278, 0.0264, 0.0257, 0.0244, 0.0232,
    ],
  },
  { from: -11, values: [0.0144, 0.0144, 0.0144, 0.013, 0.0127, 0.0122, 0.0114] },
  {
    from: -10.4,
    values: [0.0097, 0.0097, 0.0097, 0.0097, 0.009, 0.0082, 0.0078, 0.0078, 0.0078, 0.0078, 0.0073, 0.0069, 0.0066, 0.0062, 0.0058, 0.0053, 0.0053, 0.0053],
  },
  { from: -10.2, values: [0.012, 0.0116, 0.0116, 0.0113, 0.0107, 0.0102] },
  { from: -9.2, values: [0.0085, 0.0079, 0.0073, 0.0069, 0.0066, 0.0061, 0.0057] },
  { from: -8.8, values: [0.0053, 0.0057, 0.0062, 0.0053, 0.0047, 0.0047, 0.004] },
]

const greenRows: Row[] = [
  [0.0029, -8.3, -7.8],
  [0.0026, -8, -7.7],
  [0.00224, -7.7, -7.5],
  [0.00191, -7.6, -7.6],
  [0.00158, -7.7, -7.4],
  [0.00126, -7.6, -6.9],
  [0.00095, -7.5, -6.2],
  [0.000625, -6.9, -5.9],
]

const tenth = (v: number) => Math.round(v * 10) / 10

function curvePoints(curves: Curve[]) {
  return curves.flatMap((c) => c.values.map((y, i) => ({ t: tenth(c.from + i * 0.1), y })))
}

function rowPoints(rows: Row[]) {
  return rows.flatMap(([y, from, to]) => {
    const out: { t: number; y: number }[] = []
    for (let k = Math.round(from * 10); k <= Math.round(to * 10); k++) out.push({ t: k / 10, y })
    return out
  })
}

function barPoints(from: number, tops: number[], bottoms: number[]) {
  return tops.map((top, i) => ({
    t: tenth(from + i * 0.1),
    y: top,
    reach: [top - (bottoms[i] ?? belowAxis), 0],
  }))
}

const bluePoints = [...curvePoints(blueCurves), ...rowPoints(blueRows)]
const greenPoints = [...curvePoints(greenCurves), ...rowPoints(greenRows)]
const redPoints = curvePoints(redCurves)
const brownPoints = curvePoints(brownCurves)
const redBars = barPoints(redBarFrom, redBarTop, redBarBottom)
const brownBars = barPoints(brownBarFrom, brownBarTop, brownBarBottom)

function Triangle({ cx, cy, fill }: any) {
  return <path d={`M${cx - 9.5} ${cy + 7.5}L${cx} ${cy - 8.5}L${cx + 9.5} ${cy + 7.5}Z`} fill={fill} />
}

function Block({ cx, cy, fill }: any) {
  return <rect x={cx - 4.6} y={cy - 7.5} width={9.2} height={15} fill={fill} />
}

const NoMark = () => <g />

function XTick({ x, y, payload, side }: any) {
  const major = xLabels.includes(payload.value)
  const len = major ? 30 : 16
  const dir = side === 'top' ? -1 : 1
  return (
    <g>
      <line x1={x} x2={x} y1={y} y2={y + dir * len} stroke="#000" strokeWidth={3} />
      {major && side === 'bottom' && (
        <text x={x} y={y + 101} textAnchor="middle" fontFamily={FONT} fontSize={57} fill="#000">
          {payload.value}
        </text>
      )}
    </g>
  )
}

function YTick({ x, y, payload, side }: any) {
  const major = yLabels.includes(payload.value)
  const len = major ? 30 : 16
  const dir = side === 'right' ? 1 : -1
  return (
    <g>
      <line x1={x} x2={x + dir * len} y1={y} y2={y} stroke="#000" strokeWidth={3} />
      {major && side === 'left' && (
        <text x={x - 50} y={y + 18} textAnchor="end" fontFamily={FONT} fontSize={57} fill="#000">
          {payload.value}
        </text>
      )}
    </g>
  )
}

function XTitle() {
  return (
    <text x={1155} y={1695} textAnchor="middle" fontFamily={FONT} fontSize={61} fill="#000">
      Temperature [°C]
    </text>
  )
}

function YTitle() {
  return (
    <text transform="translate(88,1018) rotate(-90)" fontFamily={FONT} fontSize={58} fill="#000">
      N
      <tspan fontSize={41} dy={14}>INP</tspan>
      <tspan dy={-14}> [# L</tspan>
      <tspan fontSize={41} dy={14}>air</tspan>
      <tspan fontSize={41} dy={-56}>-1</tspan>
      <tspan dy={42}> , STP]</tspan>
    </text>
  )
}

function LegendLine({ y, parts }: { y: number; parts: [string, boolean][] }) {
  return (
    <text x={137} y={y} fontFamily={FONT} fontSize={54} fill="#000" xmlSpace="preserve">
      {parts.map(([txt, sub], i) => (
        <tspan key={i} fontSize={sub ? 39.5 : 54} dy={i === 0 ? 0 : sub ? 14 : -14}>
          {txt}
        </tspan>
      ))}
    </text>
  )
}

function LegendBox() {
  return (
    <svg width={1135} height={293} style={{ display: 'block', overflow: 'visible' }}>
      <rect x={1.5} y={1.5} width={1132} height={290} fill="#fff" stroke="#000" strokeWidth={3} />
      <path d="M45 50L65 17L85 50Z" fill={BROWN} />
      <path d="M45 121L65 85L86 121Z" fill={RED} />
      <rect x={48} y={162} width={34} height={33} fill={GREEN} />
      <rect x={48} y={230} width={34} height={33} fill={BLUE} />
      <LegendLine y={56} parts={[['Derived N', false], ['INP,air', true], [' based on N', false], ['INP,cloud 19,20,24', true]]} />
      <LegendLine y={125} parts={[['Derived N', false], ['INP,air', true], [' based on N', false], ['INP,cloud the others', true]]} />
      <LegendLine y={195} parts={[['CVAO PM', false], ['10', true], [' 1596,1641,1643', false]]} />
      <LegendLine y={263} parts={[['CVAO PM', false], ['10', true], [' the others', false]]} />
    </svg>
  )
}

export default function App() {
  return (
    <div style={{ position: 'absolute', left: 0, top: 0, width: 2067, height: 1724, background: '#fff' }}>
      <ScatterChart width={2067} height={1724} margin={{ top: 19, right: 20, bottom: 121, left: 190 }}>
        <CartesianGrid
          xAxisId="bottom"
          yAxisId="left"
          stroke="#e3eafc"
          strokeWidth={1.5}
          strokeDasharray="4 4"
        />
        <XAxis
          xAxisId="bottom"
          dataKey="t"
          type="number"
          domain={[-25, -5]}
          allowDataOverflow
          ticks={xTicks}
          interval={0}
          height={100}
          tickLine={false}
          tickMargin={0}
          tick={<XTick side="bottom" />}
          axisLine={{ stroke: '#000', strokeWidth: 3 }}
          label={<XTitle />}
        />
        <XAxis
          xAxisId="upper"
          dataKey="t"
          orientation="top"
          type="number"
          domain={[-25, -5]}
          allowDataOverflow
          ticks={xTicks}
          interval={0}
          height={30}
          tickLine={false}
          tickMargin={0}
          tick={<XTick side="top" />}
          axisLine={{ stroke: '#000', strokeWidth: 3 }}
        />
        <YAxis
          yAxisId="left"
          dataKey="y"
          type="number"
          scale="log"
          domain={[0.0004, 30]}
          allowDataOverflow
          ticks={yTicks}
          interval={0}
          width={100}
          tickLine={false}
          tickMargin={0}
          tick={<YTick side="left" />}
          axisLine={{ stroke: '#000', strokeWidth: 3 }}
          label={<YTitle />}
        />
        <YAxis
          yAxisId="right"
          dataKey="y"
          orientation="right"
          type="number"
          scale="log"
          domain={[0.0004, 30]}
          allowDataOverflow
          ticks={yTicks}
          interval={0}
          width={30}
          tickLine={false}
          tickMargin={0}
          tick={<YTick side="right" />}
          axisLine={{ stroke: '#000', strokeWidth: 3 }}
        />
        <Legend
          layout="horizontal"
          verticalAlign="middle"
          align="center"
          wrapperStyle={{ left: 864, top: 68, width: 1135, height: 293 }}
          content={() => <LegendBox />}
        />
        <Scatter name="mirror axes" xAxisId="upper" yAxisId="right" data={redBars} shape={<NoMark />} isAnimationActive={false} />
        <Scatter name="CVAO PM10 the others" xAxisId="bottom" yAxisId="left" data={bluePoints} fill={BLUE} shape={<Block />} isAnimationActive={false} />
        <Scatter name="CVAO PM10 1596,1641,1643" xAxisId="bottom" yAxisId="left" data={greenPoints} fill={GREEN} shape={<Block />} isAnimationActive={false} />
        <Scatter name="red whiskers" xAxisId="bottom" yAxisId="left" data={redBars} shape={<NoMark />} isAnimationActive={false}>
          <ErrorBar direction="y" dataKey="reach" width={2} stroke={RED} strokeWidth={2.4} isAnimationActive={false} />
        </Scatter>
        <Scatter name="Derived the others" xAxisId="bottom" yAxisId="left" data={redPoints} fill={RED} shape={<Triangle />} isAnimationActive={false} />
        <Scatter name="brown whiskers" xAxisId="bottom" yAxisId="left" data={brownBars} shape={<NoMark />} isAnimationActive={false}>
          <ErrorBar direction="y" dataKey="reach" width={2} stroke={BROWN} strokeWidth={2.4} isAnimationActive={false} />
        </Scatter>
        <Scatter name="Derived 19,20,24" xAxisId="bottom" yAxisId="left" data={brownPoints} fill={BROWN} shape={<Triangle />} isAnimationActive={false} />
      </ScatterChart>
    </div>
  )
}
